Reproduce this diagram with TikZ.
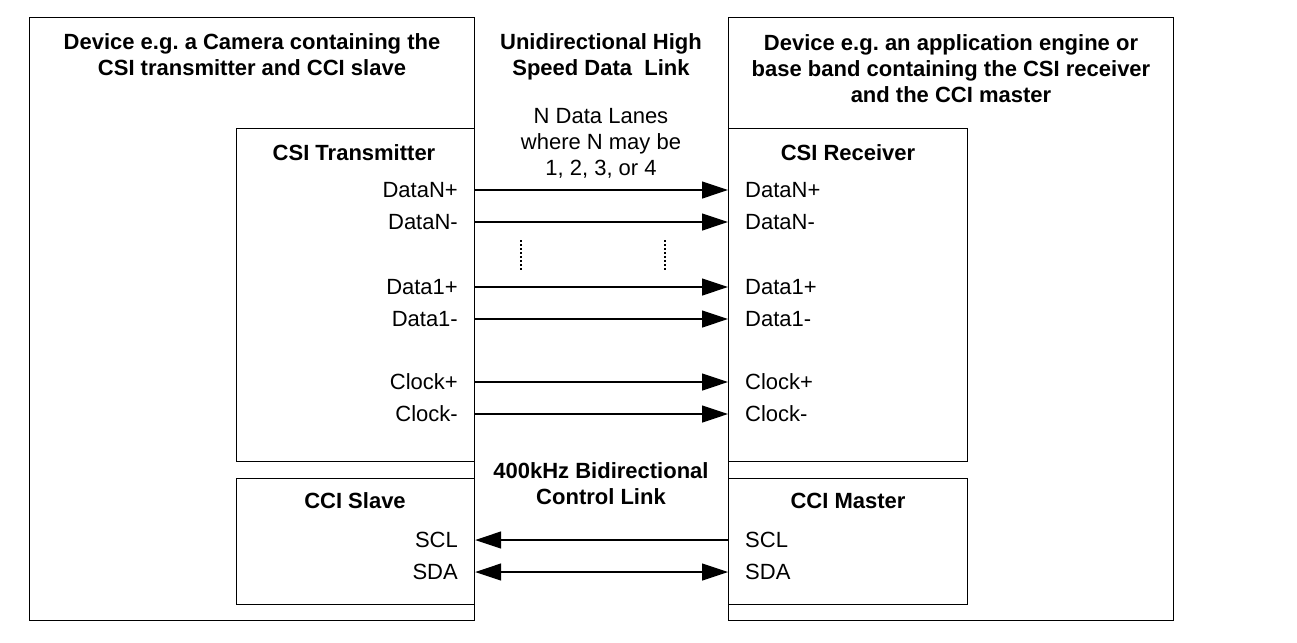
\documentclass[tikz,border=0pt]{standalone}
\usepackage{fontspec}
\setmainfont{Liberation Sans}
\usetikzlibrary{arrows.meta}
\frenchspacing

\begin{document}
\begin{tikzpicture}[x=1pt, y=-1pt,
  box/.style={draw, line width=1.2pt, inner sep=0pt, anchor=north west},
  head/.style={font=\fontsize{22}{26}\selectfont\bfseries, align=center},
  lbl/.style={font=\fontsize{22}{26}\selectfont, inner sep=0pt},
  lane/.style={line width=1.2pt, -{Triangle[length=26pt,width=17pt]}},
  duplex/.style={line width=1.2pt, {Triangle[length=26pt,width=17pt]}-{Triangle[length=26pt,width=17pt]}},
  gap/.style={line width=1.4pt, dash pattern=on 1.6pt off 2.4pt}]
% Coordinates are pixel positions of the reference (y grows downwards).
\def\lx{458} % right edge of transmitter side labels
\def\rx{745} % left edge of receiver side labels
\useasboundingbox (0,0) rectangle (1297,642);

% --- Devices ---
\node[box, minimum width=445pt, minimum height=603pt] (camera) at (29,17) {};
\node[box, minimum width=445pt, minimum height=603pt] (host) at (728,17) {};
\node[head] (camtitle) at (252,55) {Device e.g. a Camera containing the\\CSI transmitter and CCI slave};
\node[head] (hosttitle) at (951,69) {Device e.g. an application engine or\\base band containing the CSI receiver\\and the CCI master};

% --- CSI blocks ---
\node[box, minimum width=238pt, minimum height=333pt] (tx) at (236,128) {};
\node[box, minimum width=239pt, minimum height=333pt] (rx) at (728,128) {};
\node[head] (txtitle) at (354,153) {CSI Transmitter};
\node[head] (rxtitle) at (848,153) {CSI Receiver};

% --- CCI blocks ---
\node[box, minimum width=238pt, minimum height=126pt] (slave) at (236,478) {};
\node[box, minimum width=239pt, minimum height=126pt] (master) at (728,478) {};
\node[head] (slavetitle) at (355,501) {CCI Slave};
\node[head] (mastertitle) at (848,501) {CCI Master};

% --- Link captions ---
\node[head] (hslink) at (601,57) {Unidirectional High\\Speed Data\ \ Link};
\node[lbl, align=center] (lanes) at (601,143) {N Data Lanes\\where N may be\\1, 2, 3, or 4};
\node[head] (ctrllink) at (601,484) {400kHz Bidirectional\\Control Link};

% --- Lane labels and lanes ---
\foreach \name/\txt/\y in {dnp/DataN+/190, dnm/DataN-/222, donep/Data1+/287,
                           donem/Data1-/319, clkp/Clock+/382, clkm/Clock-/414}{
  \node[lbl, anchor=east] (tx\name) at (\lx,\y) {\txt};
  \node[lbl, anchor=west] (rx\name) at (\rx,\y) {\txt};
  \draw[lane] (tx.east |- tx\name) -- (rx.west |- rx\name);
}

% --- lanes left out ---
\draw[gap] (521,240) -- (521,271);
\draw[gap] (665,240) -- (665,271);

% --- Control link ---
\node[lbl, anchor=east] (slavescl) at (\lx,540) {SCL};
\node[lbl, anchor=east] (slavesda) at (\lx,572) {SDA};
\node[lbl, anchor=west] (masterscl) at (\rx,540) {SCL};
\node[lbl, anchor=west] (mastersda) at (\rx,572) {SDA};
\draw[lane] (master.west |- masterscl) -- (slave.east |- slavescl);
\draw[duplex] (slave.east |- slavesda) -- (master.west |- mastersda);
\end{tikzpicture}
\end{document}
